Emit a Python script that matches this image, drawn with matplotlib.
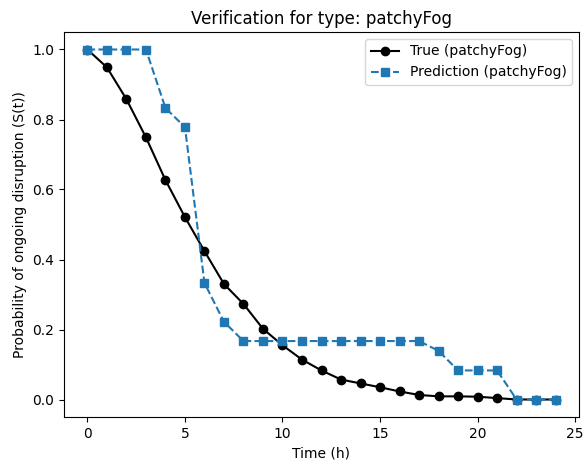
import numpy as np
import matplotlib.pyplot as plt

hours = np.arange(0, 25)
true_vals = [1.0, 0.949, 0.858, 0.749, 0.627, 0.521, 0.424, 0.330, 0.273, 0.202,
             0.155, 0.114, 0.083, 0.057, 0.046, 0.035, 0.023, 0.013, 0.009, 0.009,
             0.008, 0.004, 0.0, 0.0, 0.0]
pred_vals = [1.0, 1.0, 1.0, 1.0, 0.833, 0.778, 0.333, 0.222, 0.167, 0.167,
             0.167, 0.167, 0.167, 0.167, 0.167, 0.167, 0.167, 0.167, 0.139, 0.083,
             0.083, 0.083, 0.0, 0.0, 0.0]
fog = "patchyFog"

fig = plt.figure(figsize=(5.85, 4.68), dpi=100)
ax = fig.add_axes([64/585, 51/468, 515/585, 385/468])
ax.plot(hours, true_vals, 'o-', color='black', label=f"True ({fog})")
ax.plot(hours, pred_vals, 's--', color='tab:blue', label=f"Prediction ({fog})")
ax.set_title(f"Verification for type: {fog}")
ax.set_xlabel("Time (h)")
ax.set_ylabel("Probability of ongoing disruption (S(t))")
ax.legend()
fig.savefig("out.png")
